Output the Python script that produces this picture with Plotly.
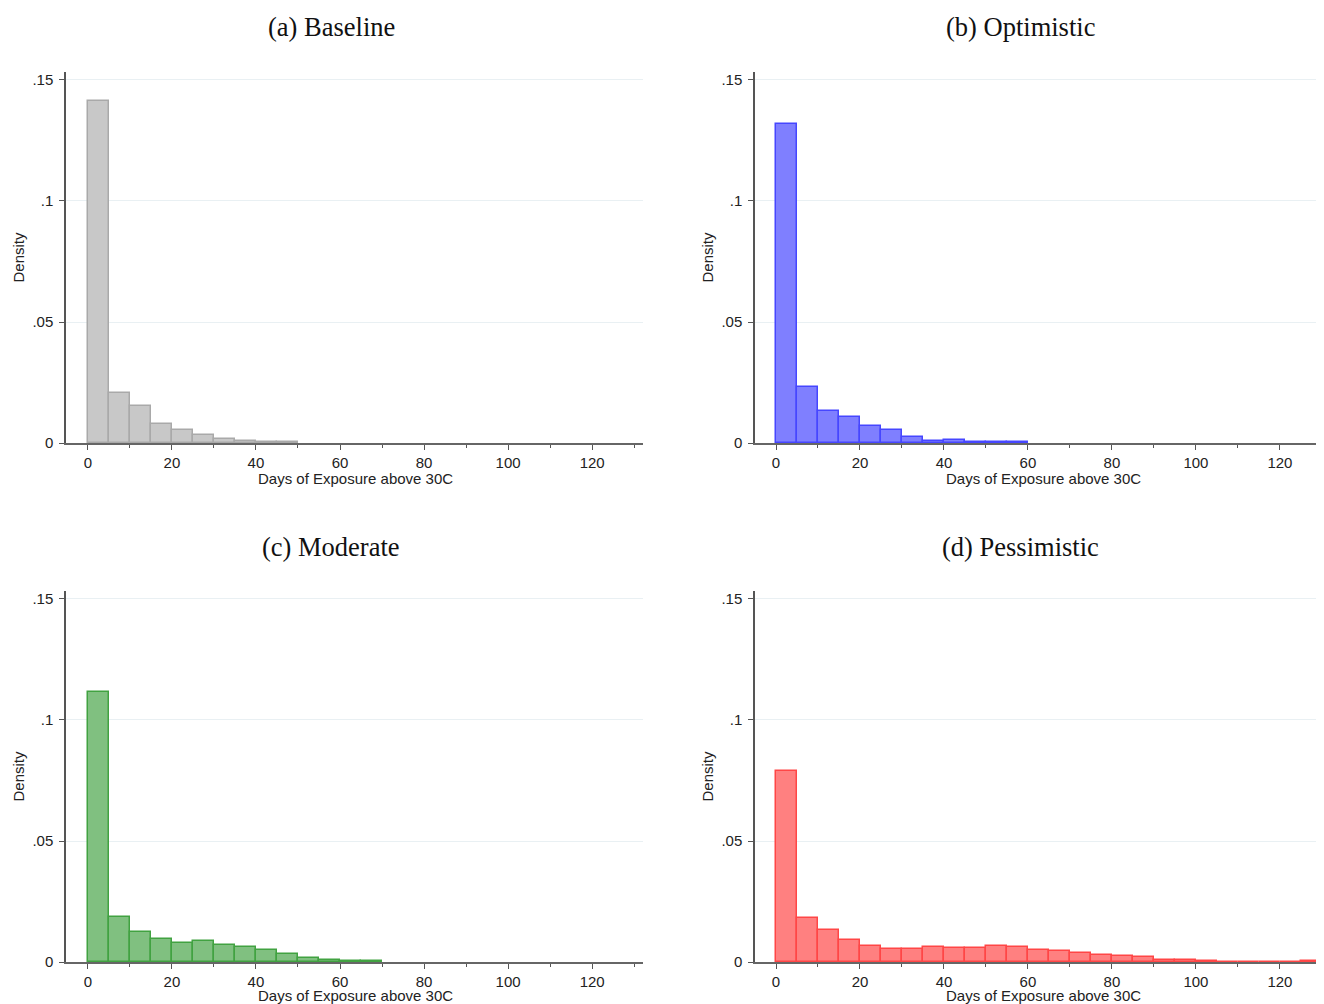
import numpy as np
import plotly.graph_objects as go
from plotly.subplots import make_subplots

# bin left edges (width 5 days)
bin_width = 5
bins_baseline = [0, 5, 10, 15, 20, 25, 30, 35, 40, 45]
dens_baseline = [0.1413, 0.0205, 0.0151, 0.0078, 0.0054, 0.0033, 0.0017, 0.0008, 0.0003, 0.0003]

bins_optimistic = [0, 5, 10, 15, 20, 25, 30, 35, 40, 45, 50, 55]
dens_optimistic = [0.1318, 0.0230, 0.0131, 0.0109, 0.0069, 0.0054, 0.0026, 0.0010, 0.0012, 0.0003, 0.0003, 0.0003]

bins_moderate = [0, 5, 10, 15, 20, 25, 30, 35, 40, 45, 50, 55, 60, 65]
dens_moderate = [0.1116, 0.0186, 0.0125, 0.0096, 0.0080, 0.0086, 0.0072, 0.0062,
                 0.0048, 0.0033, 0.0018, 0.0008, 0.0004, 0.0003]

bins_pessimistic = [0, 5, 10, 15, 20, 25, 30, 35, 40, 45, 50, 55, 60, 65, 70, 75, 80,
                    85, 90, 95, 100, 105, 110, 115, 120, 125]
dens_pessimistic = [0.0789, 0.0183, 0.0131, 0.0090, 0.0065, 0.0055, 0.0054, 0.0061,
                    0.0057, 0.0057, 0.0065, 0.0063, 0.0051, 0.0044, 0.0036, 0.0030,
                    0.0025, 0.0022, 0.0008, 0.0007, 0.0003, 0.0002, 0.0002, 0.0002,
                    0.0, 0.0003]

titles = ["(a) Baseline", "(b) Optimistic", "(c) Moderate", "(d) Pessimistic"]
x_ticks = [0, 20, 40, 60, 80, 100, 120]
y_ticks = [0, 0.05, 0.1, 0.15]
y_ticktext = ["0", ".05", ".1", ".15"]
x_label = "Days of Exposure above 30C"
y_label = "Density"

panels = [
    (bins_baseline, dens_baseline, "#c8c8c8", "#a9a9a9"),
    (bins_optimistic, dens_optimistic, "#7f7fff", "#4646ff"),
    (bins_moderate, dens_moderate, "#80c080", "#41a241"),
    (bins_pessimistic, dens_pessimistic, "#ff8080", "#ff4646"),
]

# the page puts the figure 8px in from the top-left corner
OFF = 8
W, H = 1324 - OFF, 1004 - OFF
fig = make_subplots(rows=2, cols=2)

# plot area positions (pixels in the screenshot)
x_dom = [(66, 643), (755, 1324), (66, 643), (755, 1324)]
y_dom = [(72, 443), (72, 443), (591, 962), (591, 962)]
x_rng = [(-5.2, 132.1), (-5.0, 130.5), (-5.2, 132.1), (-5.0, 130.5)]
x_title_cx = [355, 1043, 355, 1043]
x_title_gap = [35, 35, 33, 33]

tfont = dict(family="Liberation Sans", size=15, color="#222")


def px_x(p):
    return (p - OFF) / W


def px_y(p):
    return 1 - (p - OFF) / H


for i, (bins, dens, fill, edge) in enumerate(panels):
    r, c = i // 2 + 1, i % 2 + 1
    fig.add_trace(
        go.Bar(
            x=bins, y=dens, width=bin_width, offset=0,
            marker=dict(color=fill, line=dict(color=edge, width=1.5)),
            showlegend=False,
        ),
        row=r, col=c,
    )
    ax = "" if i == 0 else str(i + 1)
    fig.layout["xaxis" + ax].update(
        domain=[px_x(x_dom[i][0]), min(1, px_x(x_dom[i][1]))],
        range=list(x_rng[i]),
        tickvals=x_ticks,
        ticks="outside", ticklen=5, tickcolor="#555",
        minor=dict(dtick=10, tick0=0, ticks="outside", ticklen=3, tickcolor="#555"),
        showline=True, linecolor="#666", linewidth=1.5,
        showgrid=False, zeroline=False, automargin=False,
        tickfont=tfont, ticklabelstandoff=0,
    )
    fig.layout["yaxis" + ax].update(
        domain=[px_y(y_dom[i][1]), px_y(y_dom[i][0])],
        range=[0, 0.1533],
        tickvals=y_ticks, ticktext=y_ticktext,
        ticks="outside", ticklen=5, tickcolor="#555",
        showline=True, linecolor="#555", linewidth=1.5,
        showgrid=True, gridcolor="#e9f0f3", gridwidth=1,
        zeroline=False, automargin=False,
        tickfont=tfont, ticklabelstandoff=3,
    )
    # axis titles
    fig.add_annotation(
        text=x_label, x=px_x(x_title_cx[i]), y=px_y(y_dom[i][1] + x_title_gap[i]),
        xref="paper", yref="paper",
        xanchor="center", yanchor="middle", showarrow=False, font=tfont,
    )
    fig.add_annotation(
        text=y_label, x=px_x(x_dom[i][0] - 48), y=px_y((y_dom[i][0] + y_dom[i][1]) / 2),
        xref="paper", yref="paper", textangle=-90,
        xanchor="center", yanchor="middle", showarrow=False, font=tfont,
    )

title_pos = [(331, 27), (1020, 27), (331, 547), (1020, 547)]
for t, (px, py) in zip(titles, title_pos):
    fig.add_annotation(
        text=t, x=px_x(px), y=px_y(py), xref="paper", yref="paper",
        xanchor="center", yanchor="middle", showarrow=False,
        font=dict(family="Liberation Serif", size=26.5, color="#111"),
    )

fig.update_layout(
    width=W, height=H,
    margin=dict(l=0, r=0, t=0, b=0),
    plot_bgcolor="white", paper_bgcolor="white",
    bargap=0,
)

fig.write_html("out.html")
